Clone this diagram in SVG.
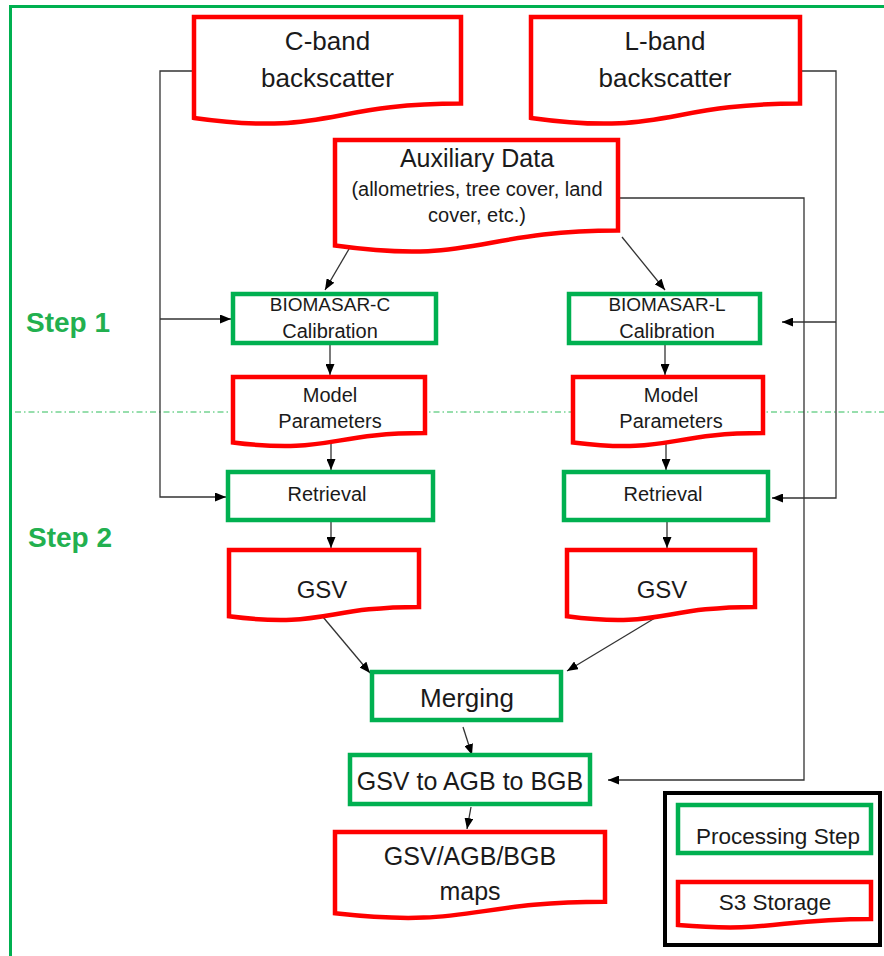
<svg xmlns="http://www.w3.org/2000/svg" width="884" height="956" viewBox="0 0 884 956">
<style>
.t{font-family:"Liberation Sans",Arial,sans-serif;fill:#1a1a1a;text-anchor:middle}
.doc{fill:#fff;stroke:#ff0000;stroke-width:4.5;stroke-linejoin:miter}
.proc{fill:#fff;stroke:#00b050;stroke-width:4.5}
.con{fill:none;stroke:#333;stroke-width:1.3}
.arr{marker-end:url(#ah)}
.step{font-family:"Liberation Sans",Arial,sans-serif;font-weight:bold;fill:#22b04f;font-size:28px}
</style>
<defs>
<marker id="ah" markerUnits="userSpaceOnUse" markerWidth="11" markerHeight="9" refX="11" refY="4.5" orient="auto">
<path d="M0,0 L11,4.5 L0,9 z" fill="#000"/>
</marker>
</defs>
<rect width="884" height="956" fill="#fff"/>
<path d="M10.5,960 V6.5 H890" fill="none" stroke="#00b050" stroke-width="3"/>
<line x1="15" y1="412" x2="884" y2="412" stroke="#2ebd5a" stroke-width="1" stroke-dasharray="6 3 1.5 3"/>
<text class="step" x="26" y="332">Step 1</text>
<text class="step" x="28" y="547">Step 2</text>
<g id="connectors">
<path class="con arr" d="M192,71 H160 V497 H226"/>
<path class="con arr" d="M160,319 H231"/>
<path class="con arr" d="M802,71 H836 V498 H772"/>
<path class="con arr" d="M836,322 H782"/>
<path class="con arr" d="M620,198 H804 V780 H608"/>
<path class="con arr" d="M349,249 L325,290"/>
<path class="con arr" d="M622,237 L665,290"/>
<path class="con arr" d="M330,345 V375"/>
<path class="con arr" d="M331,443 V470"/>
<path class="con arr" d="M331,522 V548"/>
<path class="con arr" d="M665,345 V375"/>
<path class="con arr" d="M666,443 V470"/>
<path class="con arr" d="M667,522 V548"/>
<path class="con arr" d="M323,617 L370,673"/>
<path class="con arr" d="M655,618 L567,671"/>
<path class="con arr" d="M463,727 L472,755"/>
<path class="con arr" d="M471,807 L467,829"/>
</g>
<g id="cband">
<path class="doc" d="M194,17 H461 V103.6 C327.5,103.6 327.5,136.6 194,117.9 Z"/>
<text class="t" x="327.5" y="50" font-size="26">C-band</text>
<text class="t" x="327.5" y="87" font-size="26">backscatter</text>
</g>
<g id="lband">
<path class="doc" d="M531,17 H800 V103.6 C665.5,103.6 665.5,136.6 531,117.9 Z"/>
<text class="t" x="665" y="50" font-size="26">L-band</text>
<text class="t" x="665" y="87" font-size="26">backscatter</text>
</g>
<g id="aux">
<path class="doc" d="M335,140 H618 V230.6 C476.5,230.6 476.5,265.1 335,245.5 Z"/>
<text class="t" x="477" y="167" font-size="25">Auxiliary Data</text>
<text class="t" x="477" y="196" font-size="20">(allometries, tree cover, land</text>
<text class="t" x="477" y="222" font-size="20">cover, etc.)</text>
</g>
<g id="biomasar-c">
<rect class="proc" x="233" y="294" width="203" height="49"/>
<text class="t" x="330" y="311" font-size="19">BIOMASAR-C</text>
<text class="t" x="330" y="338" font-size="20">Calibration</text>
</g>
<g id="biomasar-l">
<rect class="proc" x="569" y="294" width="191" height="49"/>
<text class="t" x="667" y="311" font-size="19">BIOMASAR-L</text>
<text class="t" x="667" y="338" font-size="20">Calibration</text>
</g>
<g id="model-c">
<path class="doc" d="M233,377 H425 V433.1 C329,433.1 329,454.5 233,442.4 Z"/>
<text class="t" x="330" y="402" font-size="20">Model</text>
<text class="t" x="330" y="428" font-size="20">Parameters</text>
</g>
<g id="model-l">
<path class="doc" d="M573,377 H763 V433.1 C668,433.1 668,454.5 573,442.4 Z"/>
<text class="t" x="671" y="402" font-size="20">Model</text>
<text class="t" x="671" y="428" font-size="20">Parameters</text>
</g>
<g id="retrieval-c">
<rect class="proc" x="228" y="472" width="205" height="48"/>
<text class="t" x="327" y="501" font-size="20">Retrieval</text>
</g>
<g id="retrieval-l">
<rect class="proc" x="564" y="472" width="204" height="48"/>
<text class="t" x="663" y="501" font-size="20">Retrieval</text>
</g>
<g id="gsv-c">
<path class="doc" d="M229,550 H419 V606.9 C324,606.9 324,628.6 229,616.3 Z"/>
<text class="t" x="322" y="598" font-size="24">GSV</text>
</g>
<g id="gsv-l">
<path class="doc" d="M567,550 H755 V606.9 C661,606.9 661,628.6 567,616.3 Z"/>
<text class="t" x="662" y="598" font-size="24">GSV</text>
</g>
<g id="merging">
<rect class="proc" x="372" y="672" width="189" height="48"/>
<text class="t" x="467" y="707" font-size="26">Merging</text>
</g>
<g id="gsv-agb-bgb">
<rect class="proc" x="350" y="755" width="240" height="49"/>
<text class="t" x="470" y="790" font-size="25">GSV to AGB to BGB</text>
</g>
<g id="maps">
<path class="doc" d="M335,832 H605 V901.8 C470,901.8 470,928.3 335,913.3 Z"/>
<text class="t" x="470" y="865" font-size="25">GSV/AGB/BGB</text>
<text class="t" x="470" y="900" font-size="25">maps</text>
</g>
<g id="legend">
<rect x="665" y="793" width="215" height="152" fill="#fff" stroke="#000" stroke-width="4"/>
<rect class="proc" x="678" y="805" width="193" height="48"/>
<text class="t" x="778" y="844" font-size="22.5">Processing Step</text>
<path class="doc" d="M678,882 H871 V918.9 C774.5,918.9 774.5,932.9 678,925 Z"/>
<text class="t" x="775" y="910" font-size="22.5">S3 Storage</text>
</g>
</svg>
